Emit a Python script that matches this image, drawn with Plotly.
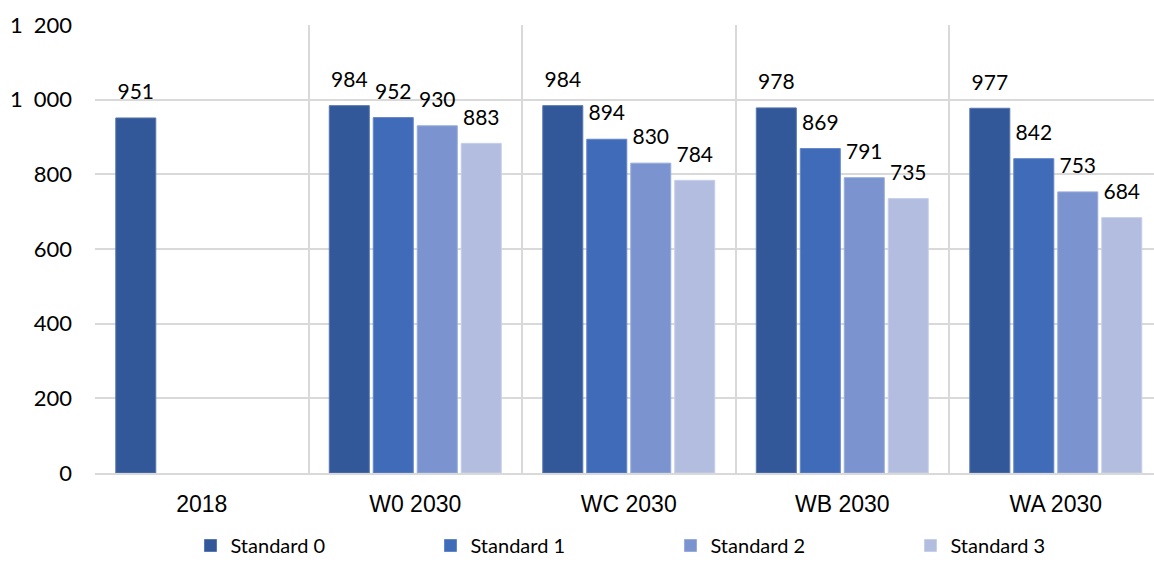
import plotly.graph_objects as go

categories = ["2018", "W0 2030", "WC 2030", "WB 2030", "WA 2030"]
series_names = ["Standard 0", "Standard 1", "Standard 2", "Standard 3"]
standard_0 = [951, 984, 984, 978, 977]
standard_1 = [None, 952, 894, 869, 842]
standard_2 = [None, 930, 830, 791, 753]
standard_3 = [None, 883, 784, 735, 684]
y_ticks = [0, 200, 400, 600, 800, 1000, 1200]
y_tick_labels = ["0", "200", "400", "600", "800", "1\u2002000", "1\u2002200"]

series_values = [standard_0, standard_1, standard_2, standard_3]
colors = ["#335899", "#3f6bb9", "#7b94d0", "#b2bde0"]
edges = ["#5877b0", "#6386c8", "#98acdb", "#c6cfea"]

FONT = "Lato"
GAP = 0.176

fig = go.Figure()
for name, vals, col, edge in zip(series_names, series_values, colors, edges):
    fig.add_trace(go.Bar(
        name=name,
        x=categories,
        y=vals,
        marker=dict(color=col, line=dict(color=edge, width=1)),
        hoverinfo="x+y+name",
    ))

# value labels: invisible grouped markers carry the text above each bar
for name, vals in zip(series_names, series_values):
    fig.add_trace(go.Scatter(
        x=categories,
        y=vals,
        mode="markers+text",
        marker=dict(size=20, opacity=0),
        text=[("" if v is None else str(v)) for v in vals],
        textposition="top center",
        textfont=dict(family=FONT, size=21, color="#000000"),
        showlegend=False,
        hoverinfo="skip",
        cliponaxis=False,
    ))

fig.update_layout(
    width=1154,
    height=565,
    barmode="group",
    bargap=GAP,
    bargroupgap=0.09,
    scattermode="group",
    scattergap=GAP,
    plot_bgcolor="white",
    paper_bgcolor="white",
    margin=dict(l=95, r=0, t=25, b=92, autoexpand=False),
    font=dict(family=FONT, size=20, color="#000000"),
    legend=dict(
        orientation="h",
        x=0.581, xanchor="center", xref="container",
        y=0.0, yanchor="bottom", yref="container",
        entrywidth=195,
        font=dict(family=FONT, size=20, color="#000000"),
        itemwidth=30,
        traceorder="normal",
        borderwidth=0,
    ),
    showlegend=True,
)

fig.update_xaxes(
    type="category",
    range=[-0.5, 4.46],
    tickson="boundaries",
    showgrid=True,
    gridcolor="#d9d9d9",
    gridwidth=2,
    showline=True,
    linecolor="#d9d9d9",
    linewidth=2,
    ticks="",
    tickfont=dict(family="Liberation Sans", size=23, color="#000000"),
    ticklabelstandoff=9,
)

fig.update_yaxes(
    range=[0, 1200],
    tickvals=y_ticks,
    ticktext=y_tick_labels,
    showgrid=True,
    gridcolor="#d9d9d9",
    gridwidth=2,
    zeroline=False,
    ticks="",
    tickfont=dict(family=FONT, size=22, color="#000000"),
    ticklabelstandoff=22,
)

fig.write_html("out.html")
